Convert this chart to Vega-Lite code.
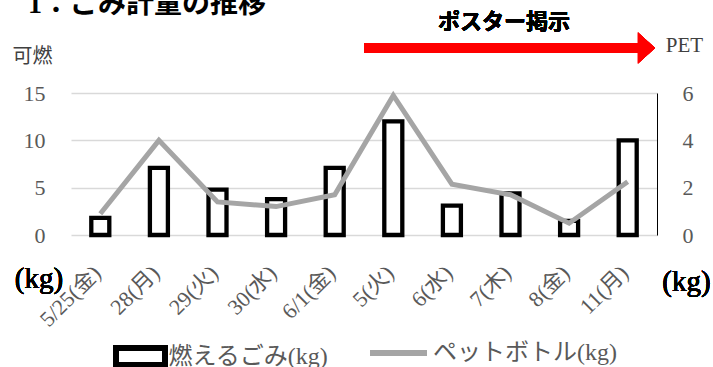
{
  "$schema": "https://vega.github.io/schema/vega-lite/v6.json",
  "width": 586,
  "height": 142,
  "autosize": "none",
  "padding": {"left": 71, "top": 93, "right": 56, "bottom": 132},
  "background": "white",
  "title": {
    "text": "1：ごみ計量の推移",
    "anchor": "start",
    "frame": "group",
    "orient": "top",
    "font": "Liberation Serif, Noto Sans CJK JP",
    "fontSize": 28,
    "fontWeight": "bold",
    "color": "black",
    "baseline": "alphabetic",
    "offset": 0,
    "dx": -43,
    "dy": 30
  },
  "config": {
    "view": {"stroke": null},
    "axis": {"titleFontWeight": "normal"}
  },
  "data": {
    "values": [
      {"date": "5/25(金)", "burn": 1.8, "pet": 0.9},
      {"date": "28(月)", "burn": 7.1, "pet": 4.0},
      {"date": "29(火)", "burn": 4.8, "pet": 1.4},
      {"date": "30(水)", "burn": 3.8, "pet": 1.2},
      {"date": "6/1(金)", "burn": 7.1, "pet": 1.7},
      {"date": "5(火)", "burn": 12.0, "pet": 5.9},
      {"date": "6(水)", "burn": 3.1, "pet": 2.15},
      {"date": "7(木)", "burn": 4.4, "pet": 1.7},
      {"date": "8(金)", "burn": 1.5, "pet": 0.5},
      {"date": "11(月)", "burn": 10.0, "pet": 2.25}
    ]
  },
  "layer": [
    {
      "layer": [
        {
          "mark": {"type": "bar", "width": 18, "fill": "white", "strokeWidth": 4.3},
          "encoding": {
            "x": {
              "field": "date",
              "type": "nominal",
              "sort": null,
              "scale": {"paddingInner": 0, "paddingOuter": 0},
              "axis": {
                "title": null,
                "labelAngle": -45,
                "labelFont": "Liberation Serif, Noto Sans CJK JP",
                "labelFontSize": 22,
                "labelColor": "#595959",
                "labelAlign": "right",
                "labelBaseline": "middle",
                "labelPadding": 34,
                "labelOffset": -3,
                "labelOverlap": false,
                "labelLimit": 300,
                "ticks": false,
                "domain": false
              }
            },
            "y": {
              "field": "burn",
              "type": "quantitative",
              "scale": {"domain": [0, 15]},
              "axis": {
                "values": [0, 5, 10, 15],
                "title": "可燃",
                "titleAngle": 0,
                "titleX": -39,
                "titleY": -37,
                "titleAlign": "center",
                "titleBaseline": "middle",
                "titleFont": "Noto Sans CJK JP",
                "titleFontSize": 20,
                "titleColor": "#404040",
                "labelFont": "Liberation Serif",
                "labelFontSize": 22,
                "labelColor": "#595959",
                "labelPadding": 26,
                "ticks": false,
                "domain": false,
                "grid": true,
                "gridColor": "#D9D9D9",
                "gridWidth": 1.5
              }
            },
            "stroke": {
              "datum": "燃えるごみ(kg)",
              "scale": {"domain": ["燃えるごみ(kg)"], "range": ["#000000"]},
              "legend": {
                "title": null,
                "orient": "none",
                "direction": "horizontal",
                "legendX": 38.5,
                "legendY": 232.5,
                "padding": 0,
                "symbolType": "M-0.875,-0.3H0.875V0.3H-0.875Z",
                "symbolSize": 3136,
                "symbolStrokeWidth": 6,
                "symbolFillColor": "white",
                "labelOffset": -3,
                "labelLimit": 400,
                "labelFont": "Liberation Serif, Noto Sans CJK JP",
                "labelFontSize": 24,
                "labelColor": "#595959"
              }
            }
          }
        },
        {
          "mark": {"type": "rule", "color": "#FF0000", "strokeWidth": 10, "strokeCap": "butt"},
          "encoding": {
            "x": {"datum": "5(火)", "bandPosition": 0},
            "x2": {"datum": "11(月)", "bandPosition": 0.68},
            "y": {"datum": 19.75, "scale": {"domain": [0, 15]}}
          }
        },
        {
          "mark": {"type": "point", "shape": "M-0.55,-1L0.55,0L-0.55,1Z", "size": 961, "filled": true, "color": "#FF0000", "opacity": 1, "strokeWidth": 0},
          "encoding": {
            "x": {"datum": "11(月)", "bandPosition": 0.82},
            "y": {"datum": 19.75, "scale": {"domain": [0, 15]}}
          }
        },
        {
          "mark": {"type": "text", "text": "ポスター掲示", "font": "Noto Sans CJK JP", "fontSize": 22, "fontWeight": "bold", "color": "black", "align": "center", "baseline": "middle"},
          "encoding": {
            "x": {"datum": "7(木)", "bandPosition": 0.39},
            "y": {"datum": 22.5, "scale": {"domain": [0, 15]}}
          }
        },
        {
          "mark": {"type": "text", "text": "(kg)", "font": "Liberation Serif", "fontSize": 29, "fontWeight": "normal", "fill": "#000000", "strokeWidth": 0, "align": "center", "baseline": "middle", "dx": -32},
          "encoding": {
            "x": {"datum": "5/25(金)", "bandPosition": 0},
            "y": {"datum": -4.65, "scale": {"domain": [0, 15]}}
          }
        },
        {
          "mark": {"type": "text", "text": "(kg)", "font": "Liberation Serif", "fontSize": 29, "fontWeight": "normal", "fill": "#000000", "strokeWidth": 0, "align": "center", "baseline": "middle", "dx": 29.5},
          "encoding": {
            "x": {"datum": "11(月)", "bandPosition": 1},
            "y": {"datum": -4.95, "scale": {"domain": [0, 15]}}
          }
        }
      ]
    },
    {
      "mark": {"type": "line", "strokeWidth": 5, "strokeJoin": "miter"},
      "encoding": {
        "x": {"field": "date", "type": "nominal", "sort": null},
        "y": {
          "field": "pet",
          "type": "quantitative",
          "scale": {"domain": [0, 6]},
          "axis": {
            "orient": "right",
            "values": [0, 2, 4, 6],
            "title": "PET",
            "titleAngle": 0,
            "titleX": 27,
            "titleY": -48,
            "titleAlign": "center",
            "titleBaseline": "middle",
            "titleFont": "Liberation Serif",
            "titleFontSize": 21,
            "titleColor": "#404040",
            "labelFont": "Liberation Serif",
            "labelFontSize": 22,
            "labelColor": "#595959",
            "labelPadding": 25,
            "ticks": false,
            "domain": true,
            "domainColor": "#000000",
            "domainWidth": 1,
            "grid": false
          }
        },
        "color": {
          "datum": "ペットボトル(kg)",
          "scale": {"domain": ["ペットボトル(kg)"], "range": ["#A5A5A5"]},
          "legend": {
            "title": null,
            "orient": "none",
            "direction": "horizontal",
            "legendX": 296,
            "legendY": 228.5,
            "padding": 0,
            "symbolType": "M-1,0H1",
            "symbolSize": 3249,
            "symbolStrokeWidth": 6,
            "labelOffset": 3,
            "labelLimit": 400,
            "labelFont": "Liberation Serif, Noto Sans CJK JP",
            "labelFontSize": 24,
            "labelColor": "#595959"
          }
        }
      }
    }
  ],
  "resolve": {"scale": {"y": "independent"}}
}
